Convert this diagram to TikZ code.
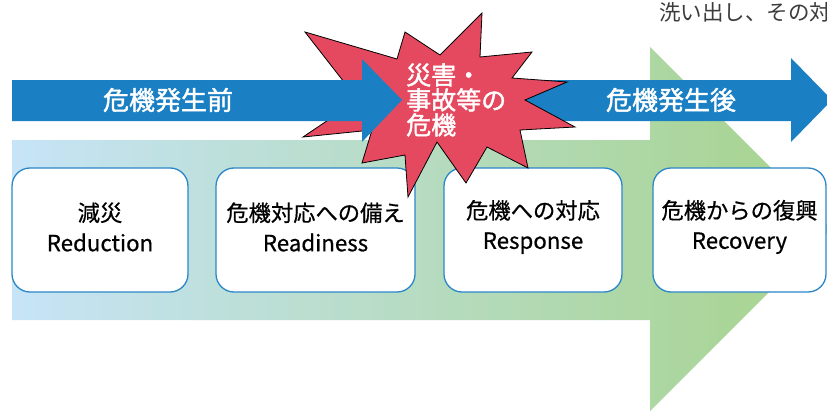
\documentclass[tikz,border=0pt]{standalone}
\usepackage{fontspec}
\setmainfont{Noto Sans CJK JP}
\newfontfamily\medfont{Noto Sans CJK JP}[UprightFeatures={FakeBold=1.6}]
\newfontfamily\boxfont{Noto Sans CJK JP}[UprightFeatures={FakeBold=0.6}]
\definecolor{bandblue}{HTML}{1B7FC4}
\definecolor{boxblue}{HTML}{2B87C8}
\definecolor{burstred}{HTML}{E5495F}
\definecolor{gradL}{HTML}{C6E4F7}
\definecolor{gradR}{HTML}{A6D38B}
\definecolor{topgray}{HTML}{3C3C3C}
\tikzset{
  stagebox/.style={draw=boxblue, line width=1.3pt, fill=white, rounded corners=18pt,
    minimum width=#1, minimum height=124pt, inner sep=0pt},
  stagetext/.style={inner sep=0pt, align=center, text=black,
    font=\boxfont\fontsize{22.3}{30}\selectfont},
  headtext/.style={text=white, inner sep=0pt, font=\medfont\fontsize{26}{26}\selectfont},
  bursttext/.style={text=white, inner sep=0pt, align=left, font=\medfont\fontsize{25}{25}\selectfont},
}
\begin{document}
\begin{tikzpicture}[x=1pt,y=-1pt]
\useasboundingbox (0,0) rectangle (827,412);
\clip (0,0) rectangle (827,412);
\fill[white] (0,0) rectangle (827,412);

% top-right text (cut off at the edge, as in the reference)
\node[anchor=west, text=topgray, inner sep=0pt, font=\fontsize{21.5}{21.5}\selectfont] (toptext) at (659,12) {洗い出し、その対};

% big gradient arrow
\shade[left color=gradL, right color=gradR]
  (12,140) -- (650,140) -- (650,47) -- (832,229) -- (650,411) -- (650,320) -- (12,320) -- cycle;

% stage boxes
\node[stagebox=176pt] (b1) at (100,230) {};
\node[stagebox=199pt] (b2) at (315.5,230) {};
\node[stagebox=178pt] (b3) at (533,230) {};
\node[stagebox=173pt] (b4) at (739.5,230) {};
\node[stagetext] (t1) at ([yshift=3pt]b1.center) {減災\\Reduction};
\node[stagetext] (t2) at ([yshift=3pt]b2.center) {危機対応への備え\\Readiness};
\node[stagetext] (t3) at ([yshift=3pt]b3.center) {危機への対応\\Response};
\node[stagetext] (t4) at ([yshift=3pt]b4.center) {危機からの復興\\Recovery};

% right blue band
\fill[bandblue] (480,80) -- (791,80) -- (791,58) -- (832,100) -- (791,142) -- (791,121) -- (480,121) -- cycle;

% starburst
\filldraw[fill=burstred, draw=black, line width=0.8pt, line join=miter]
  (305,32) -- (397,59) -- (405,32) -- (440,55) -- (482,13) -- (480,57) -- (532,52)
  -- (512,78) -- (567,82) -- (525,100) -- (575,127) -- (520,130) -- (528,168)
  -- (487,147) -- (466,183) -- (437,142) -- (408,197) -- (405,155) -- (362,163)
  -- (372,130) -- (303,137) -- (358,100) -- cycle;

% left blue arrow
\fill[bandblue] (12,80) -- (362,80) -- (362,59) -- (402,100) -- (362,142) -- (362,121) -- (12,121) -- cycle;

% texts
\node[headtext] (pre) at (168,100) {危機発生前};
\node[headtext] (post) at (671,100) {危機発生後};
\node[bursttext, anchor=west] (crisis) at (406,100) {災害・\\事故等の\\危機};
\end{tikzpicture}
\end{document}
